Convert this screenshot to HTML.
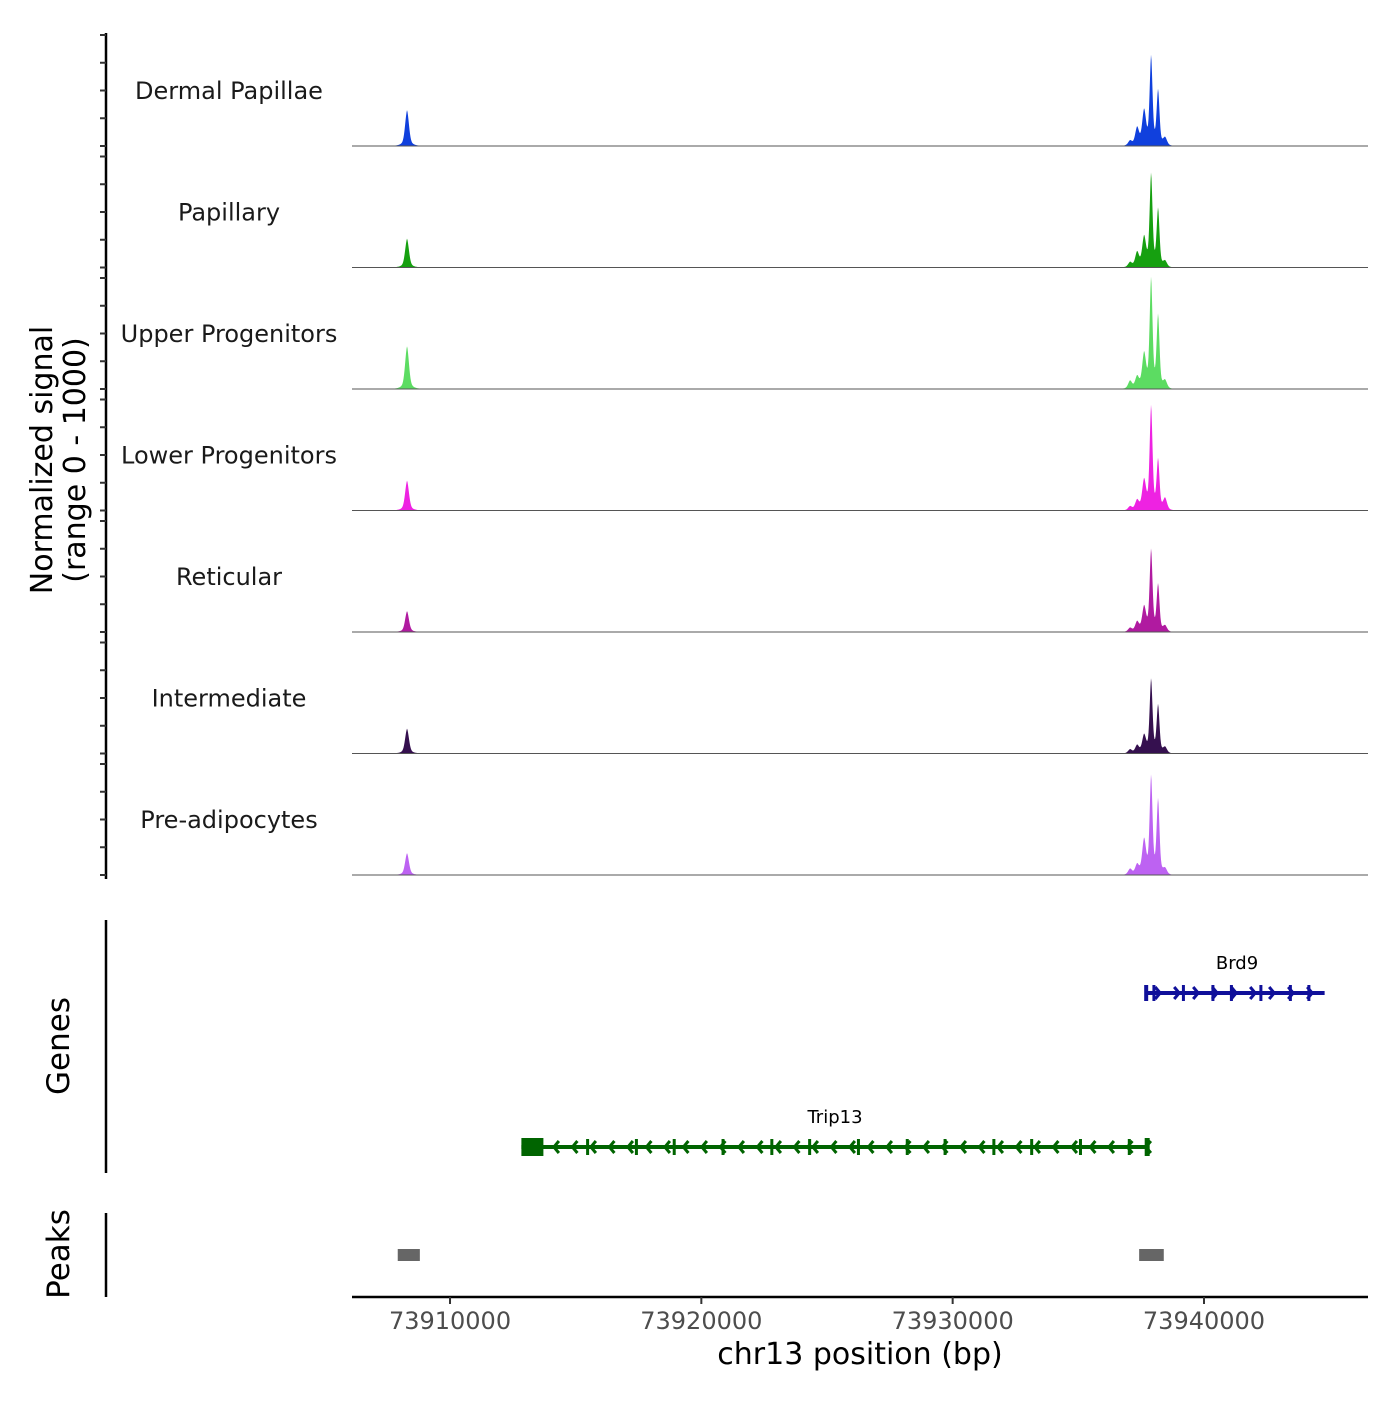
<!DOCTYPE html>
<html><head><meta charset="utf-8"><style>
body{margin:0;background:#fff}
svg text{font-family:"DejaVu Sans","Liberation Sans",sans-serif}
</style></head><body>
<svg id="c" width="1400" height="1400" xmlns="http://www.w3.org/2000/svg"></svg>
<script>
const trackNames=["Dermal Papillae","Papillary","Upper Progenitors","Lower Progenitors","Reticular","Intermediate","Pre-adipocytes"];
const trackColors=["#1040dd","#16a010","#5cdc62","#ee22e2","#b01aa0","#35104f","#bd62f2"];
const peakPositions=[73908290,73937340,73937617,73937895,73938173,73938452,73937060];
const smallPeak=[324,261,387,270,189,225,198];
const peak2=[162,135,108,90,90,72,90];
const peak3=[315,270,315,270,225,162,315];
const mainPeak=[802,838,990,937,739,667,883];
const peak4=[495,522,657,450,423,432,675];
const peak5=[72,54,72,108,54,54,54];
const peak6=[45,45,72,36,36,36,54];
const xTicks=[73910000,73920000,73930000,73940000];
const geneNames=["Brd9","Trip13"];
const geneStart=[73937700,73912840];
const geneEnd=[73944800,73937800];
const peakStart=[73907920,73937420];
const peakEnd=[73908800,73938400];

const svg=document.getElementById('c');
const NS="http://www.w3.org/2000/svg";
function el(t,a,p){const e=document.createElementNS(NS,t);for(const k in a)e.setAttribute(k,a[k]);(p||svg).appendChild(e);return e;}
const x0=352,x1=1368,bp0=73906100,bp1=73946526;
const X=bp=>x0+(bp-bp0)/(bp1-bp0)*(x1-x0);
const base0=146,trackStep=121.5,vScale=0.111;
const Y=(i,v)=>base0+i*trackStep-v*vScale;

let ax=el('line',{x1:106,y1:33,x2:106,y2:879,stroke:'#000','stroke-width':2.5});

for(let i=0;i<7;i++){for(let k=0;k<5;k++){const t=el('line',{x1:100,x2:106,y1:Y(i,k*250),y2:Y(i,k*250),stroke:'#333','stroke-width':2});
}}
let yt=el('text',{transform:'translate(52,460) rotate(-90)','text-anchor':'middle','font-size':30});

el('tspan',{x:0,dy:0},yt).textContent='Normalized signal';
el('tspan',{x:0,dy:33},yt).textContent='(range 0 - 1000)';

const peakArrs=[[smallPeak,0],[peak2,1],[peak3,2],[mainPeak,3],[peak4,4],[peak5,5],[peak6,6]];
for(let i=0;i<7;i++){
  const g=el('g',{});
  const lab=el('text',{x:229,y:Y(i,0)-47,'text-anchor':'middle','font-size':24,fill:'#1a1a1a'},g);lab.textContent=trackNames[i];
  
  let d='M'+x0+','+Y(i,0);
  for(let px=x0;px<=x1;px+=0.5){
    const bp=bp0+(px-x0)/(x1-x0)*(bp1-bp0);let v=0;
    for(const [arr,j] of peakArrs){const s=j==3||j==4?55:75;const dd=(bp-peakPositions[j])/s;v+=arr[i]*(0.7*Math.exp(-dd*dd/2)+0.3*Math.exp(-Math.abs(dd)*0.5));}
    d+='L'+px+','+Y(i,v).toFixed(2);
  }
  d+='L'+x1+','+Y(i,0)+'Z';
  const p=el('path',{d:d,fill:trackColors[i]},g);
  const bl=el('line',{x1:x0,x2:x1,y1:Y(i,0),y2:Y(i,0),stroke:'#555','stroke-width':1},g);
  
}

let ga=el('line',{x1:106,y1:920,x2:106,y2:1173,stroke:'#000','stroke-width':2.5});
let gt=el('text',{transform:'translate(69,1046) rotate(-90)','text-anchor':'middle','font-size':31});gt.textContent='Genes';

const geneY=[993,1147],geneCol=["#10109a","#006400"],geneDir=[1,-1];
for(let j=0;j<2;j++){
  const g=el('g',{});
  const a=X(geneStart[j]),b=X(geneEnd[j]),y=geneY[j],c=geneCol[j];
  el('line',{x1:a,x2:b,y1:y,y2:y,stroke:c,'stroke-width':4},g);
  for(let x=a+14;x<=b-2;x+=(j?18.5:19)){const s=geneDir[j]*5;el('polyline',{points:(x-s)+','+(y-6)+' '+x+','+y+' '+(x-s)+','+(y+6),fill:'none',stroke:c,'stroke-width':3},g);}
  for(let k=0;k<(j?14:7);k++){const ex=a+(b-a)*(k+0.5)/(j?14:7)+((k*37)%11-5);el('rect',{x:ex-1.5,y:y-8,width:3,height:16,fill:c},g);}
  if(j==1){el('rect',{x:a,y:y-9,width:22,height:18,fill:c},g);el('rect',{x:b-4,y:y-9,width:5,height:18,fill:c},g);}
  else{el('rect',{x:a-2,y:y-8,width:4,height:16,fill:c},g);}
  const t=el('text',{x:(j?835:1237),y:y-24,'text-anchor':'middle','font-size':18,fill:'#000'},g);t.textContent=geneNames[j];
}
let pa=el('line',{x1:106,y1:1213,x2:106,y2:1297,stroke:'#000','stroke-width':2.5});
let pt=el('text',{transform:'translate(69,1254) rotate(-90)','text-anchor':'middle','font-size':31});pt.textContent='Peaks';

for(let j=0;j<peakStart.length;j++){const r=el('rect',{x:X(peakStart[j]),y:1249,width:X(peakEnd[j])-X(peakStart[j]),height:12,fill:'#666'});
}
let xa=el('line',{x1:x0,x2:x1,y1:1297,y2:1297,stroke:'#000','stroke-width':2.5});
for(const t of xTicks){const l=el('line',{x1:X(t),x2:X(t),y1:1297,y2:1304,stroke:'#333','stroke-width':2});
const tx=el('text',{x:X(t),y:1329,'text-anchor':'middle','font-size':24,fill:'#4d4d4d'});tx.textContent=t;}
let xt=el('text',{x:860,y:1364,'text-anchor':'middle','font-size':30});xt.textContent='chr13 position (bp)';

</script>
</body></html>
